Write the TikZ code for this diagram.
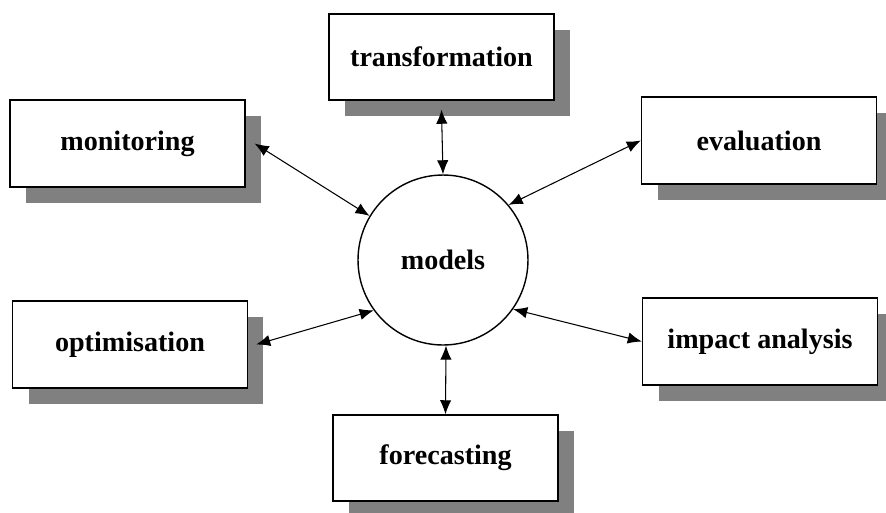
\documentclass[tikz,border=0pt]{standalone}
\usepackage{fontspec}
\setmainfont{Liberation Serif}
\usepackage{tikz}
\usetikzlibrary{shapes.geometric,shadows,arrows.meta,calc}

\tikzset{
	task/.style={draw, line width=0.8pt, fill=white, font=\bfseries\fontsize{16}{19}\selectfont,
		drop shadow={shadow xshift=0.32cm, shadow yshift=-0.32cm, fill=black!50, opacity=1}},
	wide/.style={task, minimum width=4.7cm, minimum height=1.74cm},
	narrow/.style={task, minimum width=4.5cm, minimum height=1.72cm},
	link/.style={line width=0.6pt, {Latex[length=8pt,width=6.5pt]}-{Latex[length=8pt,width=6.5pt]}}
}

\begin{document}
\begin{tikzpicture}[x=0.02cm, y=-0.02cm]
	 		\useasboundingbox (0,0) rectangle (886,512);
	 		\node[circle, draw, line width=0.8pt, minimum size=3.4cm, inner sep=0pt,
	 			font=\bfseries\fontsize{16}{19}\selectfont] (models) at (443,260) {models};
	 		\node[wide] (monitoring) at (127.5,143.5) {monitoring};
	 		\node[narrow] (transformation) at (441.5,57) {transformation};
	 		\node[wide] (evaluation) at (759,140.5) {evaluation};
	 		\node[wide] (optimisation) at (130,344.5) {optimisation};
	 		\node[wide] (impact) at (760,341.5) {impact analysis};
	 		\node[narrow] (forecasting) at (445.5,458) {forecasting};
	 		\draw[link] ([xshift=0.18cm]monitoring.east) -- (models.149);
	 		\draw[link] ([yshift=-0.18cm]transformation.south) -- (models.90);
	 		\draw[link] (models.40) -- (evaluation.west);
	 		\draw[link] ([xshift=0.16cm]optimisation.east) -- (models.216);
	 		\draw[link] (models.325) -- (impact.west);
	 		\draw[link] (models.272) -- (forecasting.north);
	 	\end{tikzpicture}
\end{document}
